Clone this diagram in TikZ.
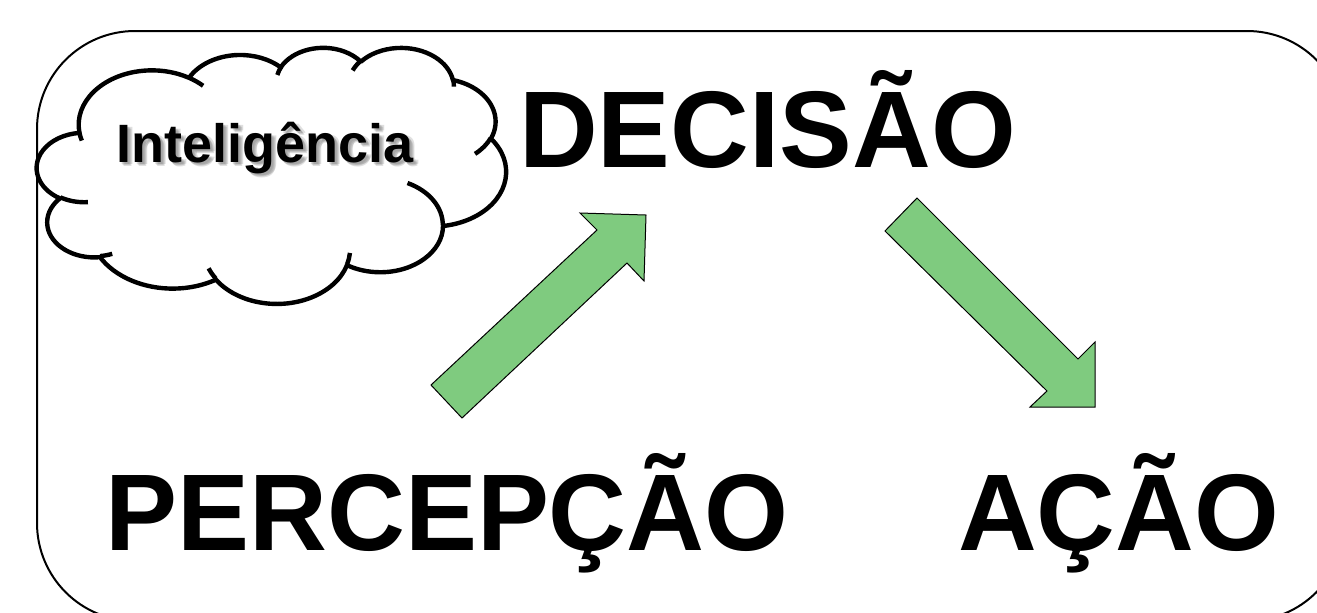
\documentclass[tikz,border=0pt]{standalone}
\usepackage{fontspec}
\setmainfont{Liberation Sans}
\definecolor{arrowgreen}{RGB}{127,203,127}
\tikzset{
  blockarrow/.style={fill=arrowgreen, draw=black, line width=0.75pt, line join=miter},
  bigword/.style={anchor=base west, inner sep=0pt, font=\fontsize{81.75}{90}\selectfont\bfseries},
  cloudword/.style={anchor=base west, inner sep=0pt, font=\fontsize{40.5}{46}\selectfont\bfseries},
  softshadow/.style={cloudword, text=black!55, opacity=0.22},
  cloudline/.style={line width=3.3pt, line join=round, line cap=butt}
}
\begin{document}
\begin{tikzpicture}[x=0.75pt,y=-0.75pt]
\useasboundingbox (0,0) rectangle (1317,612);
\clip (0,0) rectangle (1317,612);
% outer rounded frame
\draw[line width=1.5pt, rounded corners=73.5pt] (37,31) rectangle (1345,621);
% cloud
\begin{scope}[shift={(37,47)}, x=0.8142pt, y=-0.44445pt]
\draw[cloudline, fill=white] (39,143.70)
 arc[start angle=-187.745, end angle=-59.64, x radius=67.53, y radius=91.90]
 arc[start angle=-152.02, end angle=-45.46, x radius=53.33, y radius=72.67]
 arc[start angle=-153.49, end angle=-37.33, x radius=43.65, y radius=59.45]
 arc[start angle=-139.70, end angle=-10.21, x radius=48.57, y radius=65.95]
 arc[start angle=-74.77, end angle=23.21, x radius=53.33, y radius=72.73]
 arc[start angle=-37.53, end angle=81.86, x radius=67.75, y radius=92.20]
 arc[start angle=0.46, end angle=121.98, x radius=57.85, y radius=78.67]
 arc[start angle=16.85, end angle=146.23, x radius=67.52, y radius=92.15]
 arc[start angle=58.99, end angle=150.20, x radius=77.20, y radius=105.43]
 arc[start angle=-276.69, end angle=-136.89, x radius=43.60, y radius=59.18]
 arc[start angle=-239.65, end angle=-95.89, x radius=43.45, y radius=59.45]
 -- cycle;
\draw[cloudline]
 (46.93,261.77) arc[start angle=85.55, end angle=120.35, x radius=43.45, y radius=59.45]
 (69.28,348.99) arc[start angle=68.23, end angle=83.31, x radius=43.60, y radius=59.18]
 (164.78,390.90) arc[start angle=146.23, end angle=158.48, x radius=67.52, y radius=92.15]
 (288.27,347.51) arc[start angle=4.74, end angle=16.85, x radius=67.52, y radius=92.15]
 (341.29,229.54) arc[start angle=-64.03, end angle=0.46, x radius=57.85, y radius=78.67]
 (417.98,153.54) arc[start angle=23.21, end angle=49.65, x radius=53.33, y radius=72.73]
 (383.24,54.26) arc[start angle=-10.21, end angle=0.82, x radius=48.57, y radius=65.95]
 (290.78,39.52) arc[start angle=-156.28, end angle=-139.70, x radius=48.57, y radius=65.95]
 (221.41,47.20) arc[start angle=-167.73, end angle=-153.49, x radius=43.65, y radius=59.45]
 (140.00,51.92) arc[start angle=-59.64, end angle=-45.74, x radius=67.53, y radius=91.90]
 (41.27,157.89) arc[start angle=163.19, end angle=172.26, x radius=67.53, y radius=91.90];
\end{scope}
% cloud text with soft shadow
\node[softshadow] (intshadowa) at (118.5,164) {Inteligência};
\node[softshadow] (intshadowb) at (119.5,165) {Inteligência};
\node[softshadow] (intshadowc) at (120.5,166) {Inteligência};
\node[softshadow] (intshadowd) at (121,164.5) {Inteligência};
\node[cloudword] (intel) at (116.5,162) {Inteligência};
% block arrows
\draw[blockarrow] (431,385) -- (597,230) -- (580,213) -- (646,215) -- (644,281) -- (627,263) -- (462,418) -- cycle;
\draw[blockarrow] (917,198) -- (1078,359) -- (1095,342) -- (1095,407) -- (1030,407) -- (1047,391) -- (885,231) -- cycle;
% words
\node[bigword] (decisao) at (519,167) {DECISÃO};
\node[bigword, xscale=0.99] (percepcao) at (105,550) {PERCEPÇÃO};
\node[bigword] (acao) at (958,550) {AÇÃO};
\end{tikzpicture}
\end{document}
